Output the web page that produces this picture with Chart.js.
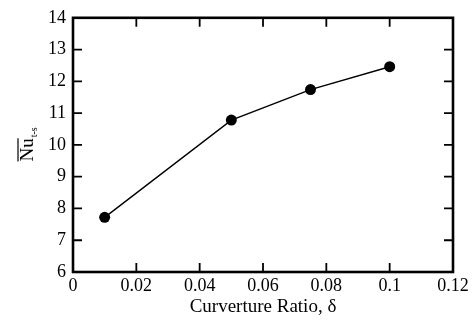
<!DOCTYPE html>
<html>
<head>
<meta charset="utf-8">
<script src="https://cdn.jsdelivr.net/npm/chart.js@4/dist/chart.umd.min.js"></script>
<style>
  html, body { margin: 0; padding: 0; background: #fff; }
  #wrap { width: 472px; height: 323px; }
</style>
</head>
<body>
<div id="wrap"><canvas id="chart" width="472" height="323"></canvas></div>
<script>
// Data
const curvatureRatio = [0.01, 0.05, 0.075, 0.1];
const nusselt = [7.72, 10.78, 11.74, 12.46];

const xTicks = [0, 0.02, 0.04, 0.06, 0.08, 0.1, 0.12];
const xTickLabels = ['0', '0.02', '0.04', '0.06', '0.08', '0.1', '0.12'];
const yTicks = [6, 7, 8, 9, 10, 11, 12, 13, 14];
const yTickLabels = ['6', '7', '8', '9', '10', '11', '12', '13', '14'];

const xTitle = 'Curverture Ratio, \u03B4';
const yTitle = 'Nu';
const yTitleSub = 't-s';

const serif = '"Liberation Serif", "DejaVu Serif", serif';

// Frame with inward ticks on all four sides, plus the rotated y title
const framePlugin = {
    id: 'frame',
    afterDraw(chart) {
        const ctx = chart.ctx;
        const area = chart.chartArea;
        const xs = chart.scales.x;
        const ys = chart.scales.y;
        const len = 9;

        ctx.save();
        ctx.strokeStyle = '#000';
        ctx.lineWidth = 1.8;
        ctx.beginPath();
        xTicks.forEach(v => {
            const px = xs.getPixelForValue(v);
            ctx.moveTo(px, area.bottom);
            ctx.lineTo(px, area.bottom - len);
            ctx.moveTo(px, area.top);
            ctx.lineTo(px, area.top + len);
        });
        yTicks.forEach(v => {
            const py = ys.getPixelForValue(v);
            ctx.moveTo(area.left, py);
            ctx.lineTo(area.left + len, py);
            ctx.moveTo(area.right, py);
            ctx.lineTo(area.right - len, py);
        });
        ctx.stroke();

        ctx.lineWidth = 2.6;
        ctx.strokeRect(area.left, area.top, area.right - area.left, area.bottom - area.top);

        // y title: Nu with an overbar and a small subscript
        ctx.translate(27, (area.top + area.bottom) / 2);
        ctx.rotate(-Math.PI / 2);
        ctx.fillStyle = '#000';
        ctx.font = '19px ' + serif;
        ctx.textBaseline = 'alphabetic';
        const w = ctx.measureText(yTitle).width;
        ctx.font = '10px ' + serif;
        const ws = ctx.measureText(yTitleSub).width;
        const x0 = -(w + ws) / 2;
        ctx.font = '19px ' + serif;
        ctx.fillText(yTitle, x0, 6);
        ctx.lineWidth = 1.2;
        ctx.beginPath();
        ctx.moveTo(x0, -9);
        ctx.lineTo(x0 + w, -9);
        ctx.stroke();
        ctx.font = '10px ' + serif;
        ctx.fillText(yTitleSub, x0 + w + 1, 10);
        ctx.restore();
    }
};

const ctx = document.getElementById('chart').getContext('2d');
new Chart(ctx, {
    type: 'scatter',
    data: {
        datasets: [{
            data: curvatureRatio.map((x, i) => ({ x: x, y: nusselt[i] })),
            showLine: true,
            borderColor: '#000',
            borderWidth: 1.4,
            backgroundColor: '#000',
            pointRadius: 5.5,
            pointHoverRadius: 5.5,
            pointBorderWidth: 0
        }]
    },
    options: {
        responsive: false,
        animation: false,
        events: [],
        layout: { padding: { top: 12, right: 19, left: 0, bottom: 0 } },
        plugins: {
            legend: { display: false },
            tooltip: { enabled: false }
        },
        scales: {
            x: {
                type: 'linear',
                min: 0,
                max: 0.12,
                afterBuildTicks: s => { s.ticks = xTicks.map(v => ({ value: v })); },
                afterFit: s => { s.height = 51; },
                grid: { display: false, drawTicks: false },
                border: { display: false },
                ticks: {
                    padding: 3,
                    color: '#000',
                    font: { family: serif, size: 18 },
                    maxRotation: 0,
                    callback: (v, i) => xTickLabels[i]
                },
                title: {
                    display: true,
                    text: xTitle,
                    color: '#000',
                    font: { family: serif, size: 19 },
                    padding: { top: 0, bottom: 5 }
                }
            },
            y: {
                type: 'linear',
                min: 6,
                max: 14,
                afterBuildTicks: s => { s.ticks = yTicks.map(v => ({ value: v })); },
                afterFit: s => { s.width = 73; },
                grid: { display: false, drawTicks: false },
                border: { display: false },
                ticks: {
                    padding: 7,
                    color: '#000',
                    font: { family: serif, size: 18 },
                    callback: (v, i) => yTickLabels[i]
                }
            }
        }
    },
    plugins: [framePlugin]
});
</script>
</body>
</html>
